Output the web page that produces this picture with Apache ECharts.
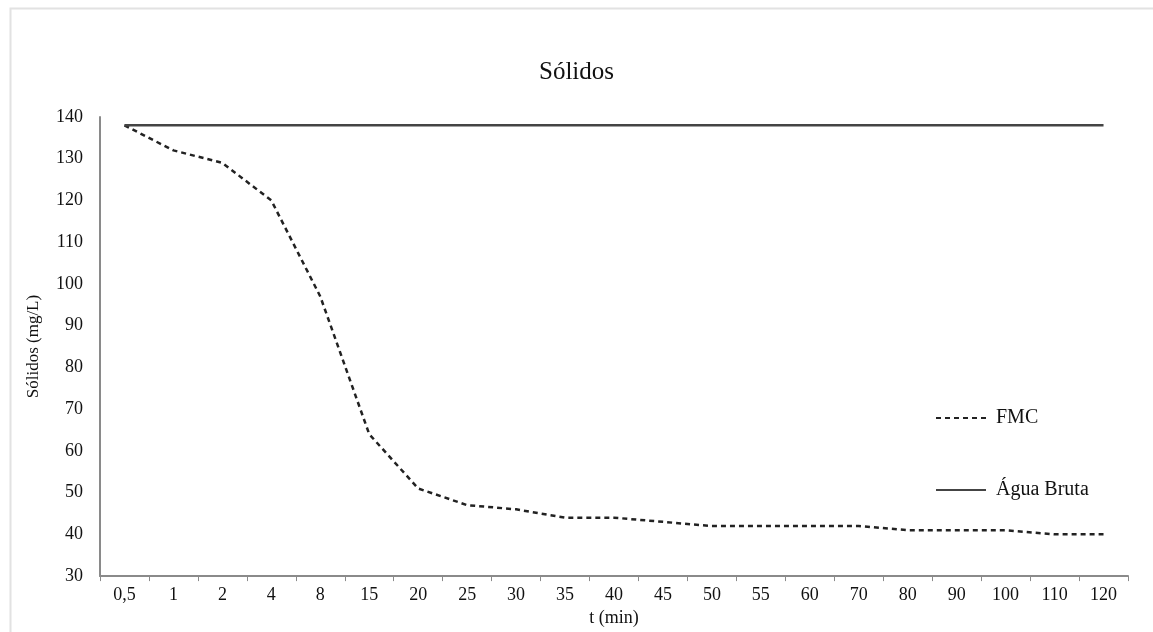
<!DOCTYPE html>
<html>
<head>
<meta charset="utf-8">
<script src="https://cdn.jsdelivr.net/npm/echarts@6/dist/echarts.min.js"></script>
<style>html,body{margin:0;padding:0;background:#fff;}#c{width:1153px;height:632px;}</style>
</head>
<body>
<div id="c"></div>
<script>
var categories = ['0,5','1','2','4','8','15','20','25','30','35','40','45','50','55','60','70','80','90','100','110','120'];
var fmc = [138,132,129,120,97,64,51,47,46,44,44,43,42,42,42,42,41,41,41,40,40];
var aguaBruta = [138,138,138,138,138,138,138,138,138,138,138,138,138,138,138,138,138,138,138,138,138];
var yTicks = {min:30, max:140, interval:10};

var font = 'Liberation Serif, Times New Roman, serif';
var chart = echarts.init(document.getElementById('c'), null, {renderer:'canvas'});
chart.setOption({
  backgroundColor:'#fff',
  animation:false,
  title:{text:'Sólidos', left:'center', top:55, textStyle:{fontFamily:font, fontSize:25, fontWeight:'normal', color:'#111'}},
  graphic:[{type:'rect', left:8, top:6, shape:{width:1170, height:650}, style:{fill:'none', stroke:'#e2e2e2', lineWidth:2}, silent:true}],
  legend:{orient:'vertical', left:935, top:408, padding:0, itemGap:52, itemWidth:50, itemHeight:14,
    itemStyle:{opacity:0},
    textStyle:{fontFamily:font, fontSize:20, color:'#111', padding:[0,0,0,5]},
    data:['FMC','Água Bruta']},
  grid:{left:100, right:25, top:117, bottom:55},
  xAxis:{type:'category', data:categories, boundaryGap:true,
    name:'t (min)', nameLocation:'middle', nameGap:29,
    nameTextStyle:{fontFamily:font, fontSize:18, color:'#111'},
    axisLine:{lineStyle:{color:'#8a8a8a', width:2}},
    axisTick:{show:true, length:5, lineStyle:{color:'#8a8a8a'}},
    axisLabel:{fontFamily:font, fontSize:18, color:'#111', margin:10},
    splitLine:{show:false}},
  yAxis:{type:'value', min:yTicks.min, max:yTicks.max, interval:yTicks.interval,
    name:'Sólidos (mg/L)', nameLocation:'middle', nameGap:58,
    nameTextStyle:{fontFamily:font, fontSize:17, color:'#111'},
    axisLine:{show:true, lineStyle:{color:'#8a8a8a', width:2}},
    axisTick:{show:false},
    axisLabel:{fontFamily:font, fontSize:18, color:'#111', margin:17},
    splitLine:{show:false}},
  series:[
    {name:'FMC', type:'line', data:fmc, showSymbol:false, symbol:'none',
      lineStyle:{color:'#222', width:2.5, type:[5,4]}, itemStyle:{color:'#222'}},
    {name:'Água Bruta', type:'line', data:aguaBruta, showSymbol:false, symbol:'none',
      lineStyle:{color:'#444', width:2.5, type:'solid'}, itemStyle:{color:'#444'}}
  ]
});
</script>
</body>
</html>
